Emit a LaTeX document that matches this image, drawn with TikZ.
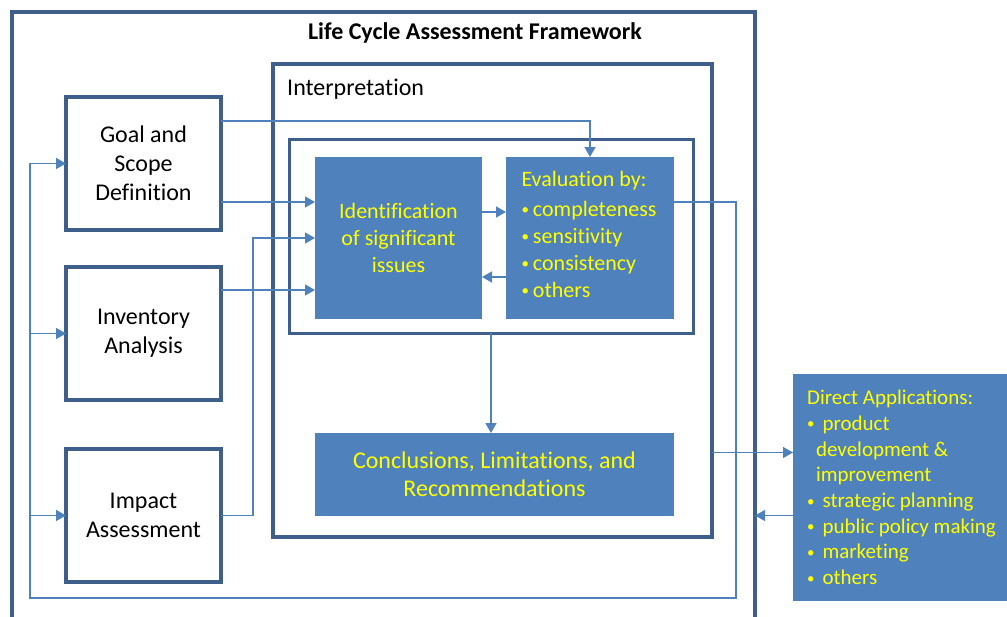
\documentclass[tikz,border=0pt]{standalone}
\usepackage{fontspec}
\setmainfont{Carlito}[Ligatures=NoCommon]
\usetikzlibrary{calc}
\usetikzlibrary{positioning}
\usetikzlibrary{arrows.meta}

\definecolor{lcaframe}{RGB}{62,95,138}
\definecolor{lcablue}{RGB}{79,129,189}
\definecolor{lcayellow}{RGB}{255,255,0}

% small list bullet
\newcommand\lcabullet{\raisebox{1.5pt}{\fontsize{15}{15}\selectfont\textbullet}}

\begin{document}
\begin{tikzpicture}[%
  >={Triangle[length=10pt,width=11pt]},
  x=1pt, y=-1pt,
  frame/.style={draw=lcaframe, line width=3.5pt, rectangle, inner sep=0pt, outer sep=0pt},
  stage/.style={frame, fill=white, minimum width=155pt, minimum height=133pt,
    align=center, font=\fontsize{24}{29}\selectfont},
  bluebox/.style={fill=lcablue, text=lcayellow, rectangle, inner sep=0pt, outer sep=0pt, align=center},
  link/.style={draw=lcablue, line width=1.4pt},
]

  \useasboundingbox (0,0) rectangle (1007,616);

  % frames
  \node[frame, minimum width=743pt, minimum height=610pt] (lca) at (383.5,317) {};
  \node[font=\bfseries\fontsize{24}{28}\selectfont] (title) at (475,33) {Life Cycle Assessment Framework};

  \node[frame, minimum width=439pt, minimum height=473pt] (interp) at (492.5,300.5) {};
  \node[anchor=north west, inner sep=0pt, font=\fontsize{24}{29}\selectfont]
    (interplabel) at ([xshift=14pt,yshift=-15pt]interp.north west) {Interpretation};
  \node[frame, line width=3pt, minimum width=404pt, minimum height=194pt] (core) at (491,236) {};

  % phases
  \node[stage] (goal) at (143.5,163.5) {Goal and\\Scope\\Definition};
  \node[stage, below=37pt of goal] (inv) {Inventory\\Analysis};
  \node[stage, below=49pt of inv] (impact) {Impact\\Assessment};

  \node[bluebox, minimum width=167pt, minimum height=162pt, font=\fontsize{22}{27}\selectfont]
    (ident) at (398.5,238) {Identification\\of significant\\issues};
  \node[bluebox, right=24pt of ident, minimum width=168pt, minimum height=162pt] (eval) {};
  \node[text=lcayellow, align=left, inner sep=0pt, font=\fontsize{22}{27}\selectfont]
    (evaltext) at ([xshift=-1pt,yshift=4pt]eval.center)
    {Evaluation by:\\[3pt]\lcabullet\hspace{4pt}completeness\\\lcabullet\hspace{4pt}sensitivity\\%
     \lcabullet\hspace{4pt}consistency\\\lcabullet\hspace{4pt}others};
  \node[bluebox, minimum width=359pt, minimum height=83pt, font=\fontsize{24}{28}\selectfont]
    (concl) at (494.5,474.5) {Conclusions, Limitations, and\\Recommendations};

  \node[bluebox, minimum width=217pt, minimum height=227pt, align=left, font=\fontsize{21}{25.7}\selectfont]
    (direct) at (901.5,487.5)
    {Direct Applications:\\\lcabullet\hspace{8pt}product\\\hspace*{9pt}development \&\\\hspace*{9pt}improvement\\%
     \lcabullet\hspace{8pt}strategic planning\\\lcabullet\hspace{8pt}public policy making\\%
     \lcabullet\hspace{8pt}marketing\\\lcabullet\hspace{8pt}others};

  % connectors
  \draw[link,->] ([yshift=-24pt]goal.north east) -| (eval.north);
  \draw[link,->] ([yshift=28pt]goal.south east) coordinate (g) -- (g -| ident.west);
  \draw[link,->] ([yshift=-23pt]inv.north east) coordinate (i) -- (i -| ident.west);
  \draw[link,->] (impact.east) -- ++(32,0) |- (ident.west);

  \draw[link,->] ([yshift=26pt]ident.east) -- ([yshift=26pt]eval.west);
  \draw[link,->] ([yshift=-39pt]eval.west) -- ([yshift=-39pt]ident.east);
  \draw[link,->] (core.south) -- (core.south |- concl.north);

  \coordinate (d1) at ([yshift=35pt]direct.west);
  \coordinate (d2) at ([yshift=-28pt]direct.west);
  \draw[link,->] (d1 -| interp.east) -- (d1);
  \draw[link,->] (d2) -- (d2 -| lca.east);

  % feedback loop
  \coordinate (loopR) at (736,598);
  \coordinate (loopL) at (30,598);
  \draw[link,->] ([yshift=36pt]eval.east) -| (loopR) -- (loopL) |- (goal.west);
  \draw[link,->] (loopL |- inv.west) -- (inv.west);
  \draw[link,->] (loopL |- impact.west) -- (impact.west);

\end{tikzpicture}
\end{document}
